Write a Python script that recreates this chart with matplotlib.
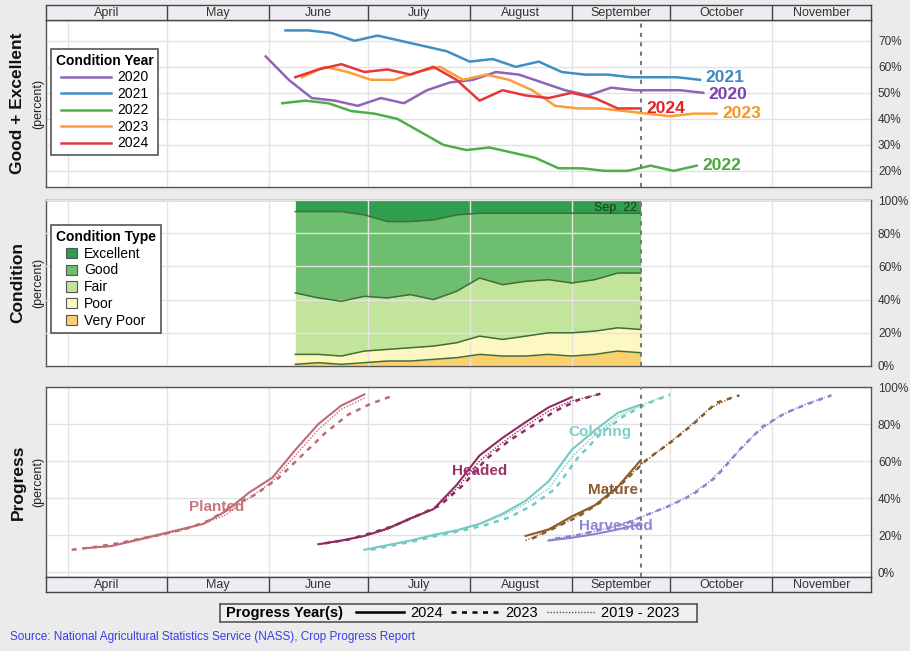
import matplotlib
matplotlib.use("Agg")
import matplotlib.pyplot as plt
from matplotlib.lines import Line2D
from matplotlib.patches import Patch
from matplotlib.ticker import FuncFormatter
import numpy as np
import pandas as pd

plt.rcParams['font.family'] = ['Liberation Sans', 'DejaVu Sans']

# ---- data -------------------------------------------------------------
months = ['April', 'May', 'June', 'July', 'August', 'September', 'October', 'November']
month_start = [0, 30, 61, 91, 122, 153, 183, 214]   # days after Apr 1
month_end = 244
last_week = '2024-09-22'

# good + excellent (percent) by condition year, weekly
ge_years = ['2020', '2021', '2022', '2023']
ge_first_week = ['2020-05-31', '2021-06-06', '2022-06-05', '2023-06-11']
ge_2020 = [64, 55, 48, 47, 45, 48, 46, 51, 54, 55, 58, 57, 54, 51, 49, 52, 51, 51, 51, 50]
ge_2021 = [74, 74, 73, 70, 72, 70, 68, 66, 62, 63, 60, 62, 58, 57, 57, 56, 56, 56, 55]
ge_2022 = [46, 47, 46, 43, 42, 40, 35, 30, 28, 29, 27, 25, 21, 21, 20, 20, 22, 20, 22]
ge_2023 = [56, 60, 58, 55, 55, 58, 60, 55, 57, 55, 51, 45, 44, 44, 43, 42, 41, 42, 42]

# 2024 condition (percent), weekly from Jun 9
cond_first_week = '2024-06-09'
cond_types = ['Excellent', 'Good', 'Fair', 'Poor', 'Very Poor']
cond_excellent = [7, 7, 7, 9, 13, 13, 12, 9, 8, 8, 8, 8, 8, 8, 8, 8]
cond_good = [49, 52, 54, 49, 46, 44, 48, 46, 39, 43, 41, 40, 42, 40, 36, 36]
cond_fair = [37, 34, 33, 33, 31, 32, 28, 31, 35, 33, 33, 32, 30, 31, 33, 34]
cond_poor = [6, 5, 5, 7, 7, 8, 8, 9, 11, 10, 12, 13, 14, 14, 14, 14]
cond_very_poor = [1, 2, 1, 2, 3, 3, 4, 5, 7, 6, 6, 7, 6, 7, 9, 8]

# progress (percent): (first week, values) for 2024, 2023, 2019-2023 avg
stages = ['Planted', 'Headed', 'Coloring', 'Mature', 'Harvested']
prog_2024 = {
    'Planted': ('2024-04-07', [13, 14, 17, 20, 23, 26, 33, 43, 51, 66, 80, 90, 96]),
    'Headed': ('2024-06-16', [15, 17, 19.5, 23.5, 29, 34, 47, 63, 72.5, 81, 89, 94.5]),
    'Coloring': ('2024-06-30', [12, 14.5, 17, 20, 22.5, 26, 31.5, 38.5, 49, 66, 76.5, 86, 90.5]),
    'Mature': ('2024-08-18', [19.5, 23, 30, 36, 46, 60.5]),
    'Harvested': ('2024-08-25', [17, 18.5, 20.5, 23, 26]),
}
prog_2023 = {
    'Planted': ('2023-04-02', [12, 13.5, 15.5, 18, 20.5, 23.5, 28, 36, 42, 51, 63, 75, 85, 91, 95.5]),
    'Headed': ('2023-06-18', [15.5, 17.5, 21, 25, 30.5, 36, 47, 61, 71, 79, 87, 93, 96.5]),
    'Coloring': ('2023-07-02', [12, 14.5, 17, 20, 22.5, 25.5, 29.5, 36, 45, 62, 75, 84.5, 91, 96]),
    'Mature': ('2023-08-20', [18, 24, 30, 38, 49, 61, 70, 80, 91.5, 95.5]),
    'Harvested': ('2023-08-27', [18, 20, 23, 26, 31, 36, 42, 51.5, 66, 78.5, 86, 91, 95.5]),
}
prog_avg = {
    'Planted': ('2024-04-07', [13, 14, 16.5, 19.5, 22.5, 26, 31, 40, 49, 63, 77, 88, 94]),
    'Headed': ('2024-06-16', [15, 17, 19.5, 23, 28.5, 34, 45, 60, 70, 79, 87, 92.5, 95.5]),
    'Coloring': ('2024-06-30', [12, 14.5, 17, 20, 22.5, 26, 30.5, 37, 45, 62, 74, 84, 90, 95]),
    'Mature': ('2024-08-18', [17, 22.5, 28.5, 36, 46, 58, 67.5, 77.5, 88.5, 94.5]),
    'Harvested': ('2024-08-25', [17.5, 19.5, 22, 25, 29.5, 34.5, 40.5, 49, 62, 75, 84, 90, 94.5]),
}

ge_colors = {'2020': '#9063b8', '2021': '#3f8fc5', '2022': '#4fae48', '2023': '#fb9d3a', '2024': '#e5363a'}
ge_label_colors = {'2020': '#7e3fae', '2021': '#3a8ac2', '2022': '#45a83e', '2023': '#f8961e', '2024': '#e3202a'}
ge_label_shift = {'2020': -0.8, '2021': 0.8, '2022': 0, '2023': 0, '2024': 0}
cond_colors = ['#2f9e4f', '#6dbf6f', '#c3e59b', '#fdf7c2', '#fbd170']
stage_colors = {'Planted': '#bf6b74', 'Headed': '#8f2b5e', 'Coloring': '#72cbc3',
                'Mature': '#8b5a2b', 'Harvested': '#8b83d2'}
stage_text_colors = {'Planted': '#c8767c', 'Headed': '#9a3468', 'Coloring': '#7dd0c9',
                     'Mature': '#8b5a2b', 'Harvested': '#9088d6'}


def week_days(first, n):
    """day offsets from Apr 1 of the same year"""
    d = pd.date_range(first, periods=n, freq='7D')
    return np.array([(x - pd.Timestamp(x.year, 4, 1)).days for x in d])


sep22 = week_days(last_week, 1)[0]
xlim = (-6.8, month_end)

# ---- layout -----------------------------------------------------------
W, H = 910, 651
fig = plt.figure(figsize=(W / 100, H / 100), dpi=100, facecolor='#ebebeb')


def px_axes(x0, y0, x1, y1):
    return fig.add_axes([x0 / W, 1 - y1 / H, (x1 - x0) / W, (y1 - y0) / H])


ax1 = px_axes(46, 20, 871, 187)
ax2 = px_axes(46, 200, 871, 366)
ax3 = px_axes(46, 387, 871, 577)
top_strip = px_axes(46, 5, 871, 20)
bot_strip = px_axes(46, 577, 871, 592)

pct = FuncFormatter(lambda v, p: f'{v:.0f}%')
for ax in (ax1, ax2, ax3):
    ax.set_xlim(*xlim)
    ax.set_xticks(month_start)
    ax.tick_params(axis='x', length=0, labelbottom=False)
    ax.yaxis.tick_right()
    ax.tick_params(axis='y', length=0, pad=5, labelsize=8.5, labelcolor='#333333')
    ax.yaxis.set_major_formatter(pct)
    ax.grid(True, color='#e2e2e2', lw=1)
    ax.set_axisbelow(True)
    for s in ax.spines.values():
        s.set_color('#555555')
        s.set_linewidth(1)
    ax.axvline(sep22, color='#7a7a7a', ls=(0, (2, 2.5)), lw=1.5, zorder=5)

for strip in (top_strip, bot_strip):
    strip.set_facecolor('#ececf2')
    strip.set_xlim(*xlim)
    strip.set_ylim(0, 1)
    strip.set_xticks([])
    strip.set_yticks([])
    for s in strip.spines.values():
        s.set_color('#444444')
        s.set_linewidth(1)
    for m in month_start[1:]:
        strip.axvline(m, color='#444444', lw=1)
    bounds = [xlim[0]] + month_start[1:] + [month_end]
    for name, a, b in zip(months, bounds[:-1], bounds[1:]):
        strip.text((a + b) / 2, 0.45, name, ha='center', va='center', fontsize=9, color='#333333')

# ---- panel 1: good + excellent ---------------------------------------
ge_2024 = [g + e for g, e in zip(cond_good, cond_excellent)]
ge_series = {'2020': (ge_first_week[0], ge_2020), '2021': (ge_first_week[1], ge_2021),
             '2022': (ge_first_week[2], ge_2022), '2023': (ge_first_week[3], ge_2023),
             '2024': (cond_first_week, ge_2024)}
for yr, (first, vals) in ge_series.items():
    xd = week_days(first, len(vals))
    ax1.plot(xd, vals, color=ge_colors[yr], lw=1.8, label=yr, zorder=3)
    ax1.text(xd[-1] + 1.7, vals[-1] + ge_label_shift[yr], yr, color=ge_label_colors[yr],
             fontsize=12.5, fontweight='bold', va='center', ha='left')
ax1.set_ylim(13.8, 78)
ax1.set_yticks([20, 30, 40, 50, 60, 70])
leg1 = ax1.legend(loc='upper left', bbox_to_anchor=(0.006, 0.826), borderaxespad=0,
                  title='Condition Year', fontsize=10, handlelength=3.6, labelspacing=0.18,
                  fancybox=False, edgecolor='#555555', framealpha=1, borderpad=0.35,
                  handletextpad=0.5)
leg1.get_title().set_fontweight('bold')
leg1.get_title().set_fontsize(10)
leg1.get_frame().set_linewidth(1.2)

# ---- panel 2: condition ----------------------------------------------
cx = week_days(cond_first_week, len(cond_good))
bands = [cond_very_poor, cond_poor, cond_fair, cond_good, cond_excellent]
band_colors = cond_colors[::-1]
base = np.zeros(len(cx))
for vals, col in zip(bands, band_colors):
    top = base + np.array(vals)
    ax2.fill_between(cx, base, top, color=col, lw=0, zorder=1)
    if col != band_colors[-1]:
        ax2.plot(cx, top, color='#3f6f33', lw=1.1, zorder=3)
    base = top
ax2.set_axisbelow(False)
ax2.grid(True, color='#e4e4e4', lw=1, zorder=2)
ax2.set_ylim(0, 100)
ax2.set_yticks([0, 20, 40, 60, 80, 100])
ax2.text(cx[-1] - 1, 95, 'Sep. 22', ha='right', va='center', fontsize=9, color='#1d3a1d', zorder=6)
cond_handles = [Patch(facecolor=c, edgecolor='#555555', lw=0.8) for c in cond_colors]
leg2 = ax2.legend(cond_handles, cond_types, loc='upper left', bbox_to_anchor=(0.006, 0.849),
                  borderaxespad=0, title='Condition Type', fontsize=10, handlelength=0.75,
                  handleheight=0.75, labelspacing=0.2, fancybox=False, edgecolor='#555555',
                  framealpha=1, borderpad=0.35, handletextpad=0.5)
leg2.get_title().set_fontweight('bold')
leg2.get_title().set_fontsize(10)
leg2.get_frame().set_linewidth(1.2)
leg2.set_zorder(10)

# ---- panel 3: progress -----------------------------------------------
for st in stages:
    col = stage_colors[st]
    first, vals = prog_avg[st]
    ax3.plot(week_days(first, len(vals)), vals, color=col, lw=1.0, ls=(0, (1, 1.2)), zorder=3)
    first, vals = prog_2023[st]
    ax3.plot(week_days(first, len(vals)), vals, color=col, lw=1.8, ls=(0, (2, 2.2)), zorder=3)
    first, vals = prog_2024[st]
    ax3.plot(week_days(first, len(vals)), vals, color=col, lw=1.5, zorder=4)
ax3.set_ylim(-2.7, 100)
ax3.set_yticks([0, 20, 40, 60, 80, 100])
stage_text_pos = {'Planted': (45, 35), 'Headed': (125, 54.6), 'Coloring': (161.5, 75.7),
                  'Mature': (165.5, 44.3), 'Harvested': (166.5, 24.9)}
for st, (tx, ty) in stage_text_pos.items():
    ax3.text(tx, ty, st, color=stage_text_colors[st], fontsize=11, fontweight='bold',
             ha='center', va='center', zorder=6)

# ---- y labels ----------------------------------------------------------
for (y0, y1), big in [((20, 187), 'Good + Excellent'), ((200, 366), 'Condition'),
                      ((387, 577), 'Progress')]:
    yc = 1 - (y0 + y1) / 2 / H
    fig.text(18 / W, yc, big, rotation=90, ha='center', va='center', fontsize=12.5,
             fontweight='bold', color='#111111')
    fig.text(38 / W, yc, '(percent)', rotation=90, ha='center', va='center', fontsize=9,
             color='#222222')

# ---- bottom legend ------------------------------------------------------
lg_ax = px_axes(220, 604, 697, 622)
lg_ax.set_facecolor('#efefef')
lg_ax.set_xticks([])
lg_ax.set_yticks([])
for s in lg_ax.spines.values():
    s.set_color('#555555')
    s.set_linewidth(1.2)
lg_ax.text(0.013, 0.5, 'Progress Year(s)', fontweight='bold', fontsize=10.5,
           ha='left', va='center', transform=lg_ax.transAxes)
yr_handles = [Line2D([], [], color='black', lw=1.8),
              Line2D([], [], color='black', lw=1.8, ls=(0, (2, 2.2))),
              Line2D([], [], color='#555555', lw=1.0, ls=(0, (1, 1.2)))]
lg_ax.legend(yr_handles, ['2024', '2023', '2019 - 2023'], ncol=3, loc='center left',
             bbox_to_anchor=(0.285, 0.5), frameon=False, fontsize=10.5, handlelength=3.3,
             columnspacing=0.6, handletextpad=0.4, borderaxespad=0, borderpad=0)

fig.text(10 / W, 1 - 637 / H,
         'Source: National Agricultural Statistics Service (NASS), Crop Progress Report',
         color='#3b3bee', fontsize=8.5, ha='left', va='center')

fig.savefig('out.png', dpi=100, facecolor=fig.get_facecolor())
